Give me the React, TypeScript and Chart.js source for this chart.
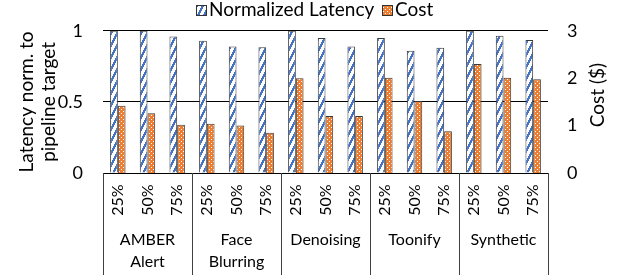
import React, { useEffect, useRef } from "react";
import { Chart, registerables } from "chart.js";

Chart.register(...registerables);

const groupLabels: string[][] = [["AMBER", "Alert"], ["Face", "Blurring"], ["Denoising"], ["Toonify"], ["Synthetic"]];
const levelLabels = ["25%", "50%", "75%"];
const categories = groupLabels.flatMap((g) => levelLabels.map((l) => `${g.join(" ")} ${l}`));
const latencyValues = [1.0, 1.0, 0.96, 0.93, 0.89, 0.885, 1.0, 0.95, 0.89, 0.95, 0.86, 0.88, 1.0, 0.965, 0.935];
const costValues = [1.42, 1.26, 1.02, 1.04, 1.0, 0.85, 2.0, 1.2, 1.2, 2.01, 1.52, 0.88, 2.3, 2.01, 1.98];
const seriesNames = ["Normalized Latency", "Cost"];
const leftTitle = ["Latency norm. to", "pipeline target"];
const rightTitle = "Cost ($)";

const FONT = "Lato";
const BLUE = "#4472C4";
const ORANGE = "#ED7D31";

function makeBluePattern(ctx: CanvasRenderingContext2D) {
  const c = document.createElement("canvas");
  c.width = 6;
  c.height = 12;
  const g = c.getContext("2d")!;
  g.fillStyle = "#ffffff";
  g.fillRect(0, 0, 6, 12);
  g.fillStyle = BLUE;
  for (let y = 0; y < 12; y++) {
    for (let x = 0; x < 6; x++) {
      if ((2 * x + y) % 12 < 5) g.fillRect(x, y, 1, 1);
    }
  }
  return ctx.createPattern(c, "repeat")!;
}

function makeOrangePattern(ctx: CanvasRenderingContext2D) {
  const c = document.createElement("canvas");
  c.width = 4;
  c.height = 4;
  const g = c.getContext("2d")!;
  g.fillStyle = ORANGE;
  g.fillRect(0, 0, 4, 4);
  g.fillStyle = "#ffffff";
  g.fillRect(1, 1, 1, 1);
  g.fillRect(3, 3, 1, 1);
  return ctx.createPattern(c, "repeat")!;
}

export default function App() {
  const ref = useRef<HTMLCanvasElement | null>(null);

  useEffect(() => {
    const canvas = ref.current!;
    const ctx = canvas.getContext("2d")!;
    const bluePat = makeBluePattern(ctx);
    const orangePat = makeOrangePattern(ctx);

    const decor = {
      id: "decor",
      afterDraw(chart: any) {
        const c = chart.ctx as CanvasRenderingContext2D;
        const x = chart.scales.x;
        const area = chart.chartArea;
        const H = chart.height;
        c.save();
        // group separators
        c.strokeStyle = "#404040";
        c.lineWidth = 1;
        for (let g = 0; g <= groupLabels.length; g++) {
          const px = Math.round(x.getPixelForValue(g * 3 - 0.5)) + 0.5;
          c.beginPath();
          c.moveTo(px, area.bottom);
          c.lineTo(px, H);
          c.stroke();
        }
        // level labels
        c.fillStyle = "#000";
        c.font = `16px ${FONT}`;
        c.textAlign = "center";
        c.textBaseline = "middle";
        categories.forEach((_, i) => {
          const cx = x.getPixelForValue(i);
          c.save();
          c.translate(cx, 200);
          c.rotate(-Math.PI / 2);
          c.fillText(levelLabels[i % 3], 0, 0);
          c.restore();
        });
        // group labels
        groupLabels.forEach((lines, g) => {
          const cx = x.getPixelForValue(g * 3 + 1);
          lines.forEach((t, li) => c.fillText(t, cx, 240 + li * 22));
        });
        // right title
        c.font = `19px ${FONT}`;
        c.save();
        c.translate(598, 95);
        c.rotate(-Math.PI / 2);
        c.fillText(rightTitle, 0, 0);
        c.restore();
        // legend
        const items = [
          { x: 196, fill: bluePat, label: seriesNames[0] },
          { x: 382, fill: orangePat, label: seriesNames[1] },
        ];
        c.textAlign = "left";
        c.textBaseline = "alphabetic";
        items.forEach((it) => {
          c.fillStyle = it.fill;
          c.fillRect(it.x, 5, 10, 10);
          c.strokeStyle = "#333";
          c.strokeRect(it.x + 0.5, 5.5, 10, 10);
          c.fillStyle = "#000";
          c.fillText(it.label, it.x + 13, 16);
        });
        c.restore();
      },
    };

    const chart = new Chart(canvas, {
      type: "bar",
      data: {
        labels: categories,
        datasets: [
          {
            label: seriesNames[0],
            data: latencyValues,
            yAxisID: "y",
            backgroundColor: bluePat,
            borderColor: "#3a3a3a",
            borderWidth: 1,
            barPercentage: 1,
            categoryPercentage: 0.52,
          },
          {
            label: seriesNames[1],
            data: costValues,
            yAxisID: "y1",
            backgroundColor: orangePat,
            borderColor: "#3a3a3a",
            borderWidth: 1,
            barPercentage: 1,
            categoryPercentage: 0.52,
          },
        ],
      },
      options: {
        responsive: false,
        animation: false,
        layout: { padding: { top: 17, left: 0, right: 0, bottom: 0 } },
        plugins: { legend: { display: false }, tooltip: { enabled: false } },
        scales: {
          x: {
            ticks: { display: false },
            grid: { display: false },
            border: { display: false },
            afterFit: (s: any) => {
              s.height = 102;
            },
          },
          y: {
            position: "left",
            min: 0,
            max: 1,
            ticks: {
              stepSize: 0.5,
              padding: 20,
              color: "#000",
              font: { family: FONT, size: 18 },
              callback: (v: any) => String(Number(v)),
            },
            grid: { color: "#000", drawTicks: false },
            border: { display: false },
            title: {
              display: true,
              text: leftTitle,
              color: "#000",
              font: { family: FONT, size: 19, lineHeight: 1.2 },
              padding: { top: 15, bottom: 0 },
            },
            afterFit: (s: any) => {
              s.width = 103;
            },
          },
          y1: {
            position: "right",
            min: 0,
            max: 3,
            ticks: {
              stepSize: 1,
              padding: 19,
              color: "#000",
              font: { family: FONT, size: 18 },
              callback: (v: any) => String(Number(v)),
            },
            grid: { display: false, drawTicks: false },
            border: { display: false },
            afterFit: (s: any) => {
              s.width = 73;
            },
          },
        },
      },
      plugins: [decor],
    });
    return () => chart.destroy();
  }, []);

  return (
    <div style={{ position: "fixed", left: 0, top: 0, width: 621, height: 275, background: "#fff" }}>
      <canvas ref={ref} width={621} height={275} style={{ display: "block" }} />
    </div>
  );
}
